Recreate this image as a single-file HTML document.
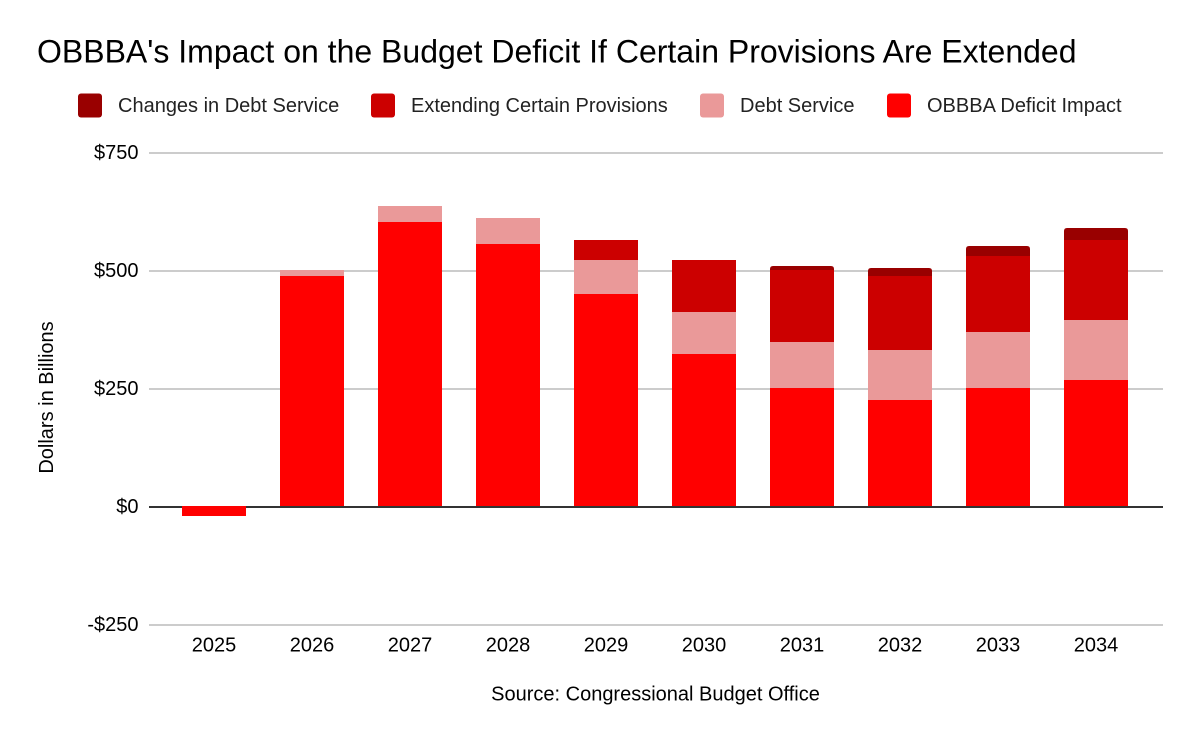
<!DOCTYPE html>
<html>
<head>
<meta charset="utf-8">
<title>OBBBA's Impact on the Budget Deficit</title>
<style>
html,body{margin:0;padding:0;background:#fff;width:1200px;height:742px;overflow:hidden}
svg{display:block}
text{font-family:"Liberation Sans",Arial,sans-serif}
</style>
</head>
<body>
<svg id="chart" xmlns="http://www.w3.org/2000/svg" width="1200" height="742" viewBox="0 0 1200 742">
<rect x="0" y="0" width="1200" height="742" fill="#ffffff"/>
<text x="37" y="62.5" font-size="32" fill="#000000">OBBBA's Impact on the Budget Deficit If Certain Provisions Are Extended</text>
<g id="legend"></g>
<g id="grid"></g>
<g id="zero"></g>
<g id="bars"></g>
<g id="yticks"></g>
<g id="xticks"></g>
<text transform="translate(53,397.5) rotate(-90)" text-anchor="middle" font-size="20" fill="#000000">Dollars in Billions</text>
<text x="655.5" y="700.5" text-anchor="middle" font-size="20" fill="#000000">Source: Congressional Budget Office</text>
</svg>
<script>
var categories = ['2025','2026','2027','2028','2029','2030','2031','2032','2033','2034'];
var deficitImpact = [-21,487,602,555,449,322,250,225,250,267];
var debtService = [0,13,34,55,72,89,97,106,119,127];
var extendingProvisions = [0,0,0,0,43,110,153,156,161,170];
var changesInDebtService = [0,0,0,0,0,0,8,17,21,25];
var yTickValues = [750,500,250,0,-250];
var yTickLabels = ['$750','$500','$250','$0','-$250'];
var legendLabels = ['Changes in Debt Service','Extending Certain Provisions','Debt Service','OBBBA Deficit Impact'];

var NS = 'http://www.w3.org/2000/svg';
var plotLeft = 149, plotRight = 1163;
var zeroY = 506, unitsPerPx = 250 / 118;
var slotStart = 165, slotWidth = 98, barWidth = 64;
var colors = {changes:'#990000', extending:'#cc0000', debt:'#ea9999', deficit:'#ff0000'};

function yScale(v){ return Math.round(zeroY - v / unitsPerPx); }
function xCenter(i){ return slotStart + slotWidth * (i + 0.5); }
function make(tag, attrs, parent){
  var el = document.createElementNS(NS, tag);
  for (var k in attrs) el.setAttribute(k, attrs[k]);
  parent.appendChild(el);
  return el;
}

var grid = document.getElementById('grid');
var yticks = document.getElementById('yticks');
yTickValues.forEach(function(v, i){
  var y = yScale(v) + 1;
  if (v !== 0) {
    var line = make('line', {x1:plotLeft, x2:plotRight, y1:y, y2:y, stroke:'#cccccc', 'stroke-width':2}, grid);
    
    
  }
  var t = make('text', {x:138.5, y:y + 6, 'text-anchor':'end', 'font-size':20, fill:'#000000'}, yticks);
  
  
  t.textContent = yTickLabels[i];
});

var zeroLine = make('line', {x1:plotLeft, x2:plotRight, y1:yScale(0) + 1, y2:yScale(0) + 1, stroke:'#333333', 'stroke-width':2}, document.getElementById('zero'));



var bars = document.getElementById('bars');
function segment(i, from, to, color, name, rounded){
  var x = xCenter(i) - barWidth / 2;
  var y1 = yScale(Math.max(from, to));
  var y2 = yScale(Math.min(from, to));
  var el;
  if (rounded) {
    var r = Math.min(3, y2 - y1);
    var d = 'M' + x + ' ' + y2 + 'V' + (y1 + r) + 'Q' + x + ' ' + y1 + ' ' + (x + r) + ' ' + y1 +
      'H' + (x + barWidth - r) + 'Q' + (x + barWidth) + ' ' + y1 + ' ' + (x + barWidth) + ' ' + (y1 + r) +
      'V' + y2 + 'Z';
    el = make('path', {d:d, fill:color}, bars);
  } else {
    el = make('rect', {x:x, y:y1, width:barWidth, height:y2 - y1, fill:color}, bars);
  }
  
  
}
categories.forEach(function(c, i){
  var base = deficitImpact[i];
  segment(i, 0, base, colors.deficit, 'bar-deficit-impact-' + c, false);
  var start = Math.max(base, 0);
  var a = start + debtService[i];
  if (debtService[i] > 0) segment(i, start, a, colors.debt, 'bar-debt-service-' + c, false);
  var b = a + extendingProvisions[i];
  if (extendingProvisions[i] > 0) segment(i, a, b, colors.extending, 'bar-extending-provisions-' + c, false);
  var d = b + changesInDebtService[i];
  if (changesInDebtService[i] > 0) segment(i, b, d, colors.changes, 'bar-changes-debt-service-' + c, true);
});

var xticks = document.getElementById('xticks');
categories.forEach(function(c, i){
  var t = make('text', {x:xCenter(i), y:651.5, 'text-anchor':'middle', 'font-size':20, fill:'#000000'}, xticks);
  
  
  t.textContent = c;
});

var legend = document.getElementById('legend');
var legendColors = [colors.changes, colors.extending, colors.debt, colors.deficit];
var legendSwatchX = [78, 371, 700, 887];
var legendTextX = [118, 411, 740, 927];
legendLabels.forEach(function(label, i){
  var s = make('rect', {x:legendSwatchX[i], y:93.5, width:24, height:24, rx:3, ry:3, fill:legendColors[i]}, legend);
  
  
  var t = make('text', {x:legendTextX[i], y:112, 'font-size':20, fill:'#222222'}, legend);
  
  
  t.textContent = label;
});
</script>
</body>
</html>
